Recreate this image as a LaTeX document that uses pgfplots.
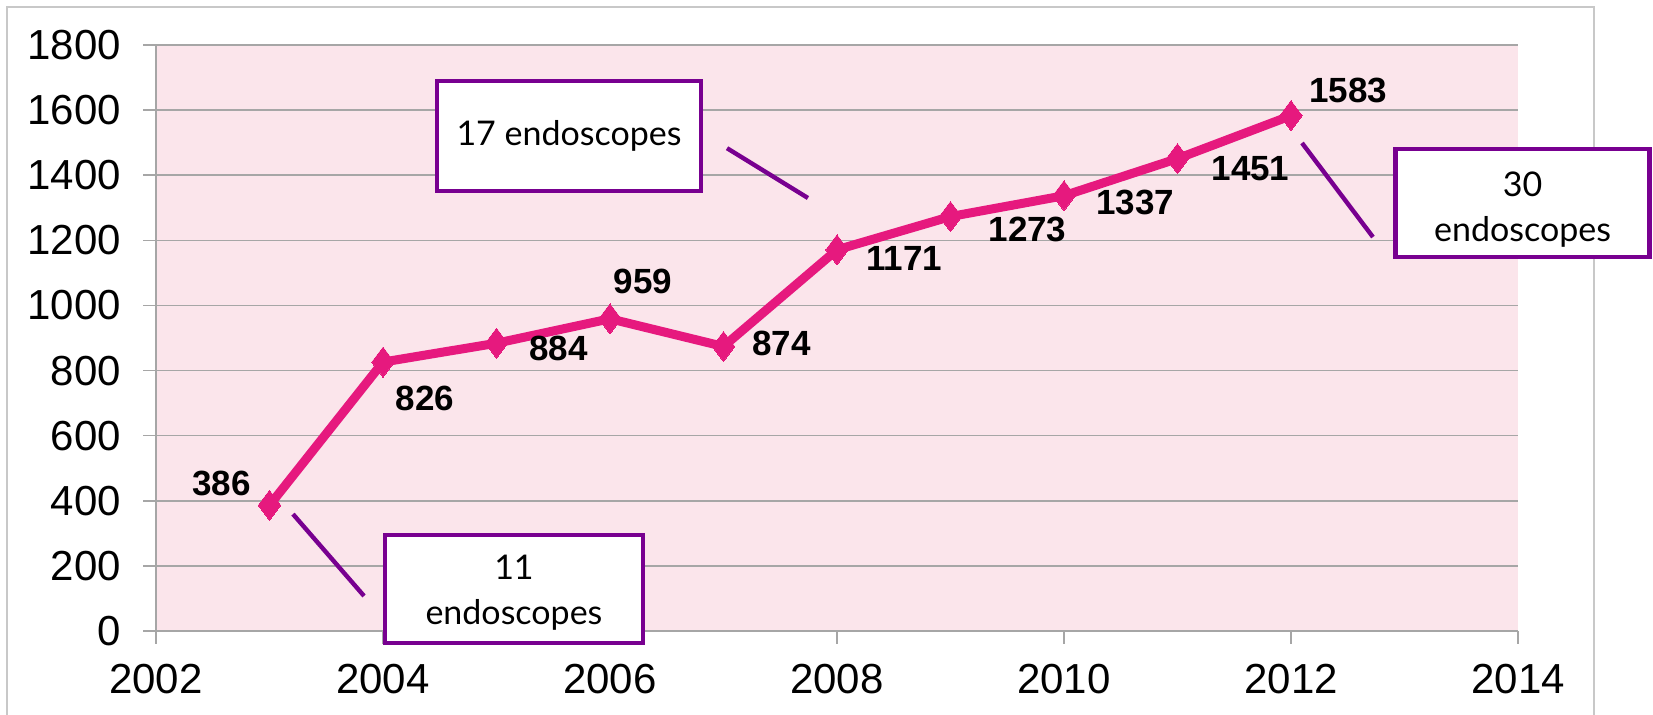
\documentclass[border=0pt]{standalone}
\usepackage{pgfplots}
\pgfplotsset{compat=1.18}
\usepackage{fontspec}
\setmainfont{Liberation Sans}
\newfontfamily\calloutfont{Lato}
\definecolor{bgpink}{HTML}{FBE5EB}
\definecolor{linepink}{HTML}{E6197E}
\definecolor{callpurple}{HTML}{780090}
\definecolor{gridgray}{HTML}{A6A6A6}
\definecolor{framegray}{HTML}{C8C8C8}
\begin{document}
\begin{tikzpicture}
\useasboundingbox (-78pt,-42pt) rectangle (748.5pt,315.5pt);
\draw[framegray, line width=0.6pt] (-74.5pt,-42pt) -- (-74.5pt,312pt) -- (719pt,312pt) -- (719pt,-42pt);
\begin{axis}[
  at={(0,0)}, anchor=south west,
  scale only axis, width=681pt, height=293pt,
  xmin=2002, xmax=2014, ymin=0, ymax=1800,
  xtick={2002,2004,...,2014}, ytick={0,200,...,1800},
  axis lines=left, axis line style={-, gridgray, line width=0.8pt},
  tick align=outside, major tick length=6.5pt,
  tick style={gridgray, line width=0.8pt},
  ymajorgrids, grid style={gridgray, line width=0.8pt},
  axis background/.style={fill=bgpink},
  /pgf/number format/1000 sep={},
  /pgf/number format/assume math mode=true,
  tick label style={font=\fontsize{21}{24}\selectfont, text=black},
  yticklabel style={xshift=-7.5pt},
  xticklabel style={yshift=-6.5pt},
  clip=false,
]
\addplot[linepink, line width=4.5pt, mark=diamond*, mark size=7.5pt,
  mark options={fill=linepink, line width=0pt},
  nodes near coords,
  point meta=explicit,
  visualization depends on={value \thisrow{dx} \as \dx},
  visualization depends on={value \thisrow{dy} \as \dy},
  nodes near coords style={anchor=center, xshift=\dx pt, yshift=\dy pt,
    font=\fontsize{17.5}{20}\selectfont\bfseries, text=black},
] table[x=x, y=y, meta=y] {
x     y     dx     dy
2003  386   -24    11
2004  826   21     -18
2005  884   31     -2.5
2006  959   16.5   18.5
2007  874   29     1.5
2008  1171  33.5   -4.5
2009  1273  38.5   -6.5
2010  1337  35.5   -3.5
2011  1451  36.5   -5
2012  1583  28.5   12.8
};
\draw[callpurple, line width=2.2pt] (axis cs:2003.207,359) -- (axis cs:2003.833,107.5);
\draw[callpurple, line width=2.2pt] (axis cs:2007.031,1483) -- (axis cs:2007.744,1330);
\draw[callpurple, line width=2.2pt] (axis cs:2012.097,1499) -- (axis cs:2012.722,1210);
\coordinate (b11) at (axis cs:2005.154,129);
\coordinate (b17) at (axis cs:2005.639,1520);
\coordinate (b30) at (axis cs:2014.04,1314.5);
\end{axis}
\tikzset{callbox/.style={draw=callpurple, line width=2.25pt, fill=white, inner sep=0pt},
  calltext/.style={align=center, font=\calloutfont\fontsize{17}{22.5}\selectfont, text=black, inner sep=0pt}}
\node[callbox, minimum width=129pt, minimum height=54pt] at (b11) {};
\node[calltext] at ([yshift=-2pt]b11) {11\\endoscopes};
\node[callbox, minimum width=132pt, minimum height=55pt] at (b17) {};
\node[calltext] at (b17) {17 endoscopes};
\node[callbox, minimum width=127pt, minimum height=54pt] at (b30) {};
\node[calltext] at ([yshift=-3.5pt]b30) {30\\endoscopes};
\end{tikzpicture}
\end{document}
